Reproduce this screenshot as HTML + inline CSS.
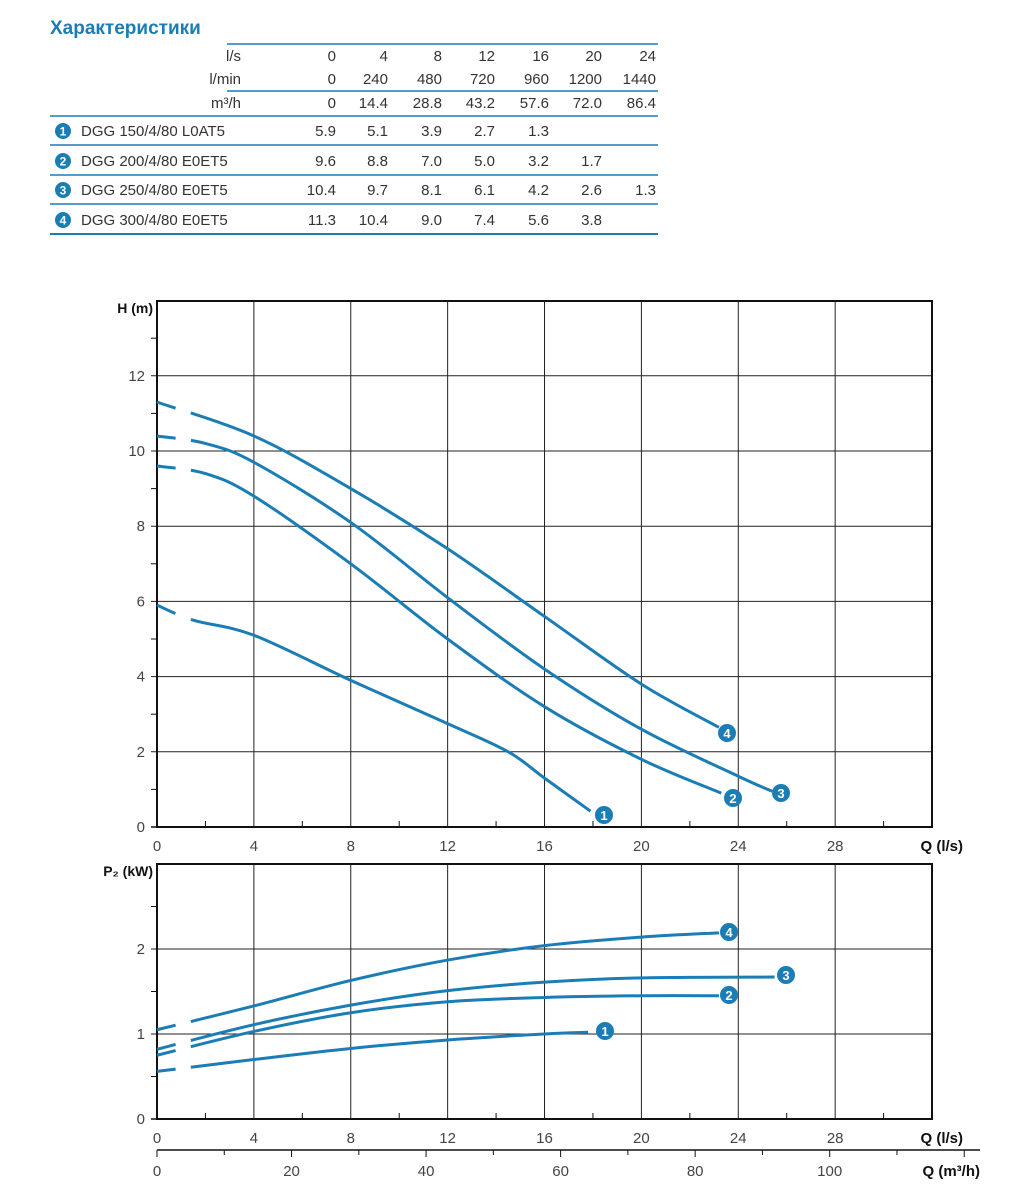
<!DOCTYPE html>
<html><head><meta charset="utf-8"><style>
body{margin:0;background:#fff;width:1027px;height:1190px;overflow:hidden}
svg text{font-family:"Liberation Sans",sans-serif}
</style></head><body>
<svg id="s" width="1027" height="1190" xmlns="http://www.w3.org/2000/svg">
<text x="50" y="34" font-size="19" font-weight="bold" fill="#1a7db5">Характеристики</text>
<g stroke="#1a7db5" stroke-width="1.5">
<line x1="227" y1="44" x2="658" y2="44"/>
<line x1="227" y1="91" x2="658" y2="91"/>
<line x1="50" y1="116" x2="658" y2="116"/>
<line x1="50" y1="145" x2="658" y2="145"/>
<line x1="50" y1="175" x2="658" y2="175"/>
<line x1="50" y1="204" x2="658" y2="204"/>
<line x1="50" y1="234" x2="658" y2="234" stroke-width="2"/>
</g>
<g id="tbl" font-size="15" fill="#333" text-anchor="end"></g>
<g id="chart"></g>
</svg>
<script>
const NS="http://www.w3.org/2000/svg";
function el(p,t,a,txt){const e=document.createElementNS(NS,t);for(const k in a)e.setAttribute(k,a[k]);if(txt!==undefined)e.textContent=txt;p.appendChild(e);return e;}
const tbl=document.getElementById('tbl');
const cols=[336,388,442,495,549,602,656];
const rows=[
 ["l/s",61,["0","4","8","12","16","20","24"]],
 ["l/min",84,["0","240","480","720","960","1200","1440"]],
 ["m³/h",108,["0","14.4","28.8","43.2","57.6","72.0","86.4"]],
 ["DGG 150/4/80 L0AT5",136,["5.9","5.1","3.9","2.7","1.3"]],
 ["DGG 200/4/80 E0ET5",166,["9.6","8.8","7.0","5.0","3.2","1.7"]],
 ["DGG 250/4/80 E0ET5",195,["10.4","9.7","8.1","6.1","4.2","2.6","1.3"]],
 ["DGG 300/4/80 E0ET5",225,["11.3","10.4","9.0","7.4","5.6","3.8"]]];
rows.forEach((r,i)=>{
 if(i<3) el(tbl,'text',{x:241,y:r[1]},r[0]);
 else{
  el(tbl,'circle',{cx:63,cy:r[1]-5,r:8,fill:'#1a7db5'});
  el(tbl,'text',{x:63,y:r[1]-0.5,'text-anchor':'middle',fill:'#fff','font-size':12,'font-weight':'bold'},String(i-2));
  el(tbl,'text',{x:81,y:r[1],'text-anchor':'start'},r[0]);
 }
 r[2].forEach((v,j)=>el(tbl,'text',{x:cols[j],y:r[1]},v));
});
const g=document.getElementById('chart');
const X=q=>157+q*24.22;
const BLUE='#1a7db5';
function frame(top,bot,yv,ymap,ylabel){
 for(let q=4;q<=28;q+=4) el(g,'line',{x1:X(q),y1:top,x2:X(q),y2:bot,stroke:'#222','stroke-width':1});
 yv.forEach(v=>{if(v>0)el(g,'line',{x1:151,y1:ymap(v),x2:932,y2:ymap(v),stroke:'#222','stroke-width':1});});
 el(g,'rect',{x:157,y:top,width:775,height:bot-top,fill:'none',stroke:'#111','stroke-width':2});
 el(g,'line',{x1:151,y1:bot,x2:157,y2:bot,stroke:'#111','stroke-width':1.5});
 for(let q=2;q<32;q+=4) el(g,'line',{x1:X(q),y1:bot,x2:X(q),y2:bot-6,stroke:'#111','stroke-width':1});
 for(let q=0;q<=28;q+=4) el(g,'text',{x:X(q),y:bot+24,'font-size':15,fill:'#444','text-anchor':'middle'},q);
 el(g,'text',{x:963,y:bot+24,'font-size':15,'font-weight':'bold','text-anchor':'end',fill:'#111'},'Q (l/s)');
}
// top chart
const HY=h=>827-h*37.6;
frame(301,827,[0,2,4,6,8,10,12],HY);
for(let h=1;h<14;h+=2) el(g,'line',{x1:151,y1:HY(h),x2:157,y2:HY(h),stroke:'#111','stroke-width':1});
[0,2,4,6,8,10,12].forEach(h=>el(g,'text',{x:145,y:HY(h)+5,'font-size':15,fill:'#444','text-anchor':'end'},h));
el(g,'text',{x:153,y:313,'font-size':14,'font-weight':'bold','text-anchor':'end',fill:'#111'},'H (m)');
// bottom chart
const PY=p=>1119-p*85;
frame(864,1119,[0,1,2],PY);
[0.5,1.5,2.5].forEach(p=>el(g,'line',{x1:151,y1:PY(p),x2:157,y2:PY(p),stroke:'#111','stroke-width':1}));
[0,1,2].forEach(p=>el(g,'text',{x:145,y:PY(p)+5,'font-size':15,fill:'#444','text-anchor':'end'},p));
el(g,'text',{x:153,y:876,'font-size':14,'font-weight':'bold','text-anchor':'end',fill:'#111'},'P₂ (kW)');
// m3/h axis
el(g,'line',{x1:157,y1:1150,x2:980,y2:1150,stroke:'#111','stroke-width':1.5});
for(let m=0;m<=120;m+=10){const x=157+m*6.727;if(x>980)break;el(g,'line',{x1:x,y1:1150,x2:x,y2:m%20==0?1157:1155,stroke:'#111','stroke-width':1});}
for(let m=0;m<=100;m+=20) el(g,'text',{x:157+m*6.727,y:1176,'font-size':15,fill:'#444','text-anchor':'middle'},m);
el(g,'text',{x:980,y:1176,'font-size':15,'font-weight':'bold','text-anchor':'end',fill:'#111'},'Q (m³/h)');
// curves
function curve(pts,ymap,lab){
 const P=pts.map(p=>[X(p[0]),ymap(p[1])]);
 let d='M'+P[0][0]+','+P[0][1];
 for(let i=0;i<P.length-1;i++){
  const p0=P[i-1]||P[i],p1=P[i],p2=P[i+1],p3=P[i+2]||p2;
  d+=` C${p1[0]+(p2[0]-p0[0])/6},${p1[1]+(p2[1]-p0[1])/6} ${p2[0]-(p3[0]-p1[0])/6},${p2[1]-(p3[1]-p1[1])/6} ${p2[0]},${p2[1]}`;
 }
 const pe=el(g,'path',{d:d,fill:'none',stroke:BLUE,'stroke-width':3});
 const L=pe.getTotalLength();
 // find length at x=X(1.4)
 let lo=0,hi=L;for(let k=0;k<30;k++){const m=(lo+hi)/2;if(pe.getPointAtLength(m).x<X(1.4))lo=m;else hi=m;}
 const s=lo, a=s*0.55, gp=s*0.2;
 pe.setAttribute('stroke-dasharray',`${a} ${gp} ${s} 0 ${L}`);
 pe.setAttribute('stroke-dasharray',`${a} ${s-a} ${L}`);
 el(g,'circle',{cx:lab[0],cy:lab[1],r:9,fill:BLUE});
 el(g,'text',{x:lab[0],y:lab[1]+5,'font-size':13,'font-weight':'bold',fill:'#fff','text-anchor':'middle'},lab[2]);
}
curve([[0,11.3],[4,10.4],[8,9.0],[12,7.4],[16,5.6],[20,3.8],[23.2,2.65]],HY,[727,733,'4']);
curve([[0,10.4],[2,10.2],[4,9.7],[8,8.1],[12,6.1],[16,4.2],[20,2.6],[24,1.35],[25.4,0.95]],HY,[781,793,'3']);
curve([[0,9.6],[2,9.4],[4,8.8],[8,7.0],[12,5.0],[16,3.2],[20,1.8],[23.3,0.9]],HY,[733,798,'2']);
curve([[0,5.9],[1.5,5.5],[4,5.1],[8,3.9],[12,2.75],[14.5,2.0],[16,1.3],[17.9,0.42]],HY,[604,815,'1']);
curve([[0,1.05],[4,1.33],[8,1.63],[12,1.87],[16,2.04],[20,2.14],[23.2,2.19]],PY,[729,932,'4']);
curve([[0,0.82],[4,1.11],[8,1.34],[12,1.51],[16,1.61],[20,1.66],[25.5,1.67]],PY,[786,975,'3']);
curve([[0,0.75],[4,1.03],[8,1.25],[12,1.38],[16,1.43],[20,1.45],[23.2,1.45]],PY,[729,995,'2']);
curve([[0,0.56],[4,0.70],[8,0.83],[12,0.93],[16,1.0],[17.8,1.02]],PY,[605,1031,'1']);
</script>
</body></html>
